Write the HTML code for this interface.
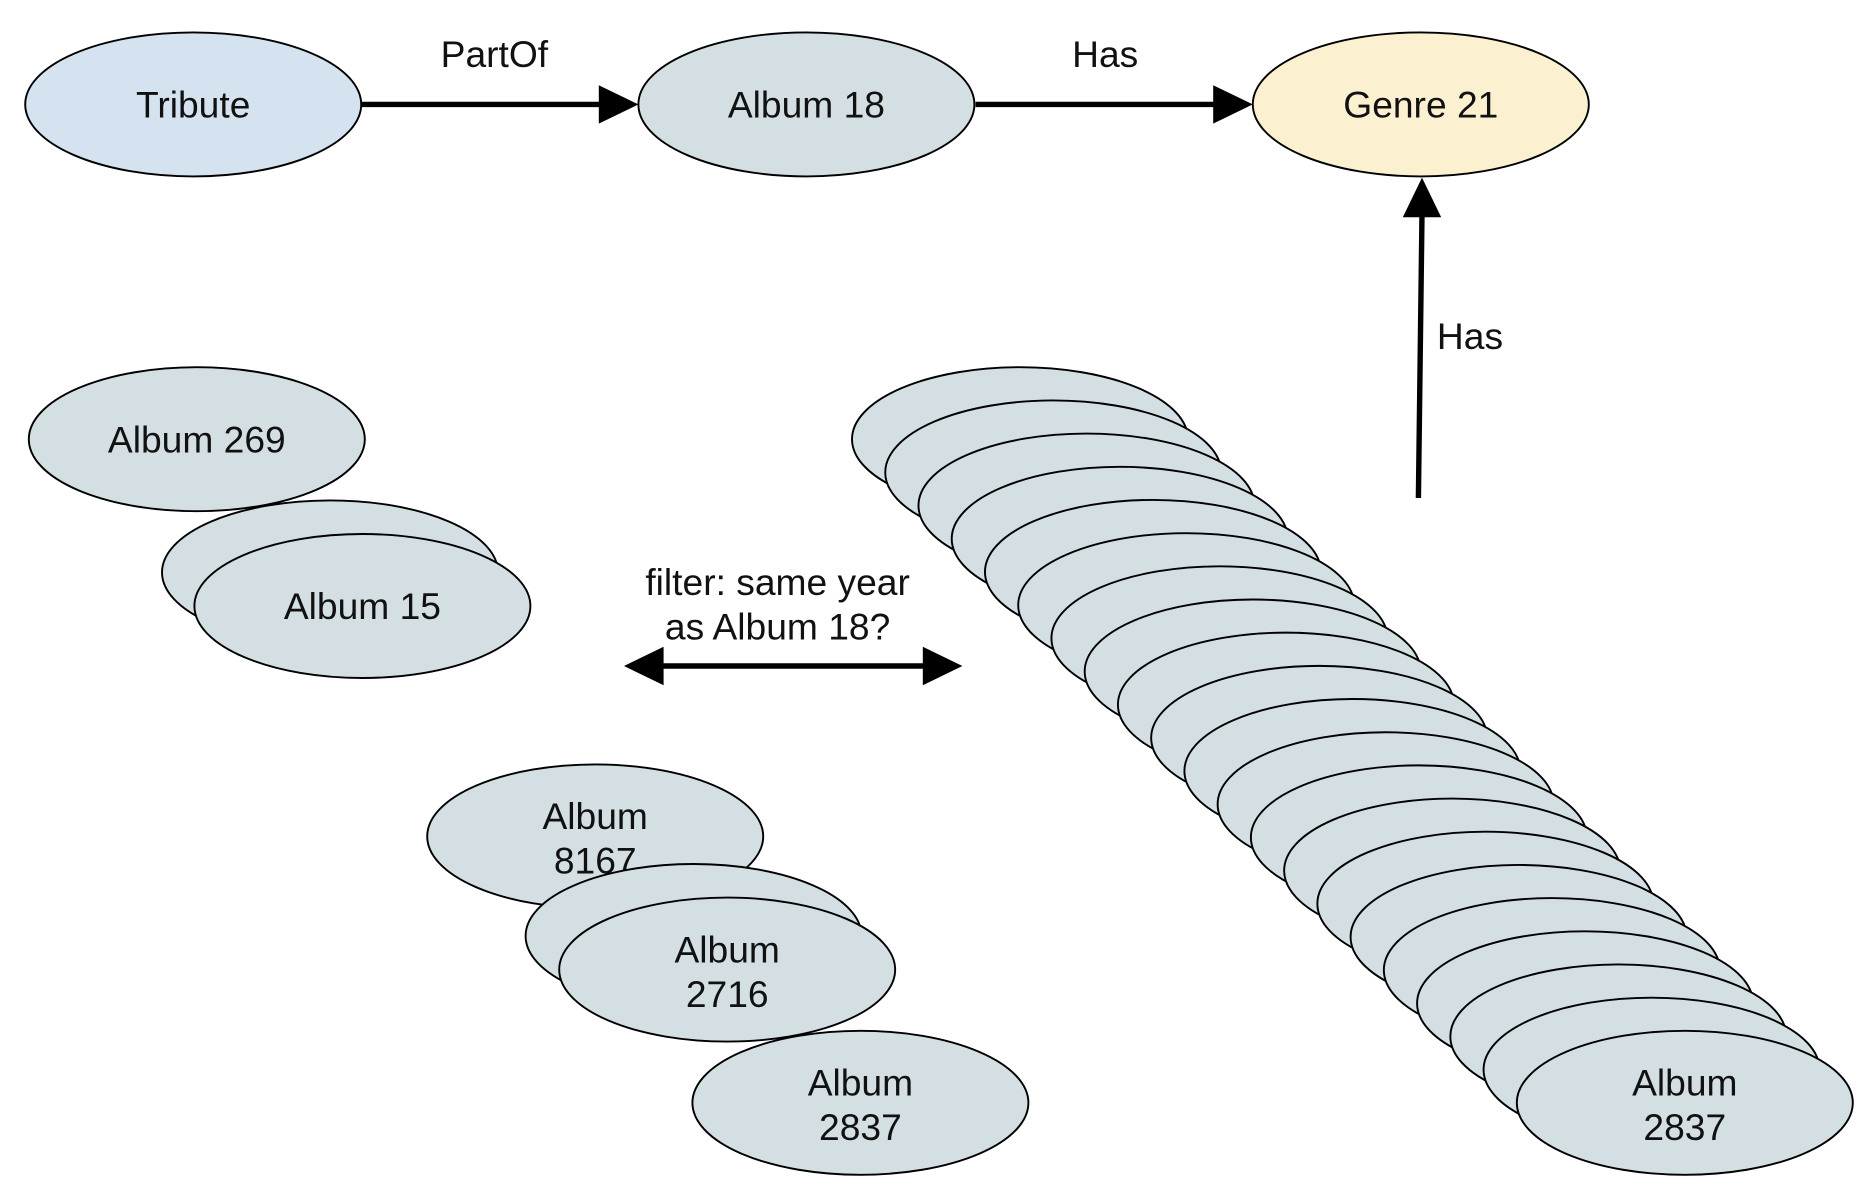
<!DOCTYPE html>
<html><head><meta charset="utf-8"><style>
html,body{margin:0;padding:0;background:#fff;}
svg{display:block;}
text{font-family:"Liberation Sans",Arial,sans-serif;font-size:31px;fill:#111;text-anchor:middle;}
.n{fill:#d3dfe3;stroke:#000;stroke-width:1.6;}
</style></head><body>
<svg width="1876" height="1200" viewBox="0 0 1563.33 1000" xmlns="http://www.w3.org/2000/svg">
<defs>
<marker id="ah" markerWidth="10" markerHeight="10" refX="0" refY="0" viewBox="-1 -5 8 10" orient="auto" markerUnits="userSpaceOnUse" style="overflow:visible"></marker>
</defs>
<!-- top row -->
<ellipse cx="161" cy="87" rx="140" ry="60" fill="#d5e3f0" stroke="#000" stroke-width="1.6"/>
<text x="161" y="98">Tribute</text>
<ellipse class="n" cx="672" cy="87" rx="140" ry="60"/>
<text x="672" y="98">Album 18</text>
<ellipse cx="1184" cy="87" rx="140" ry="60" fill="#fbf1d1" stroke="#000" stroke-width="1.6"/>
<text x="1184" y="98">Genre 21</text>

<line x1="301" y1="87" x2="502" y2="87" stroke="#000" stroke-width="4.5"/>
<polygon points="532,87 499,71 499,103" fill="#000"/>
<text x="412" y="56">PartOf</text>
<line x1="813" y1="87" x2="1014" y2="87" stroke="#000" stroke-width="4.5"/>
<polygon points="1044,87 1011,71 1011,103" fill="#000"/>
<text x="921" y="56">Has</text>

<line x1="1182" y1="415" x2="1185" y2="178" stroke="#000" stroke-width="4.5"/>
<polygon points="1185,148 1169,181 1201,181" fill="#000"/>
<text x="1225" y="291">Has</text>

<!-- left nodes -->
<ellipse class="n" cx="164" cy="366" rx="140" ry="60"/>
<text x="164" y="377">Album 269</text>
<ellipse class="n" cx="275" cy="477" rx="140" ry="60"/>
<ellipse class="n" cx="302" cy="505" rx="140" ry="60"/>
<text x="302" y="516">Album 15</text>

<text x="648" y="496">filter: same year</text>
<text x="648" y="533">as Album 18?</text>
<line x1="548" y1="555" x2="774" y2="555" stroke="#000" stroke-width="4.5"/>
<polygon points="520,555 553,539 553,571" fill="#000"/>
<polygon points="802,555 769,539 769,571" fill="#000"/>

<ellipse class="n" cx="496" cy="697" rx="140" ry="60"/>
<text x="496" y="691">Album</text>
<text x="496" y="728">8167</text>
<ellipse class="n" cx="578" cy="780" rx="140" ry="60"/>
<ellipse class="n" cx="606" cy="808" rx="140" ry="60"/>
<text x="606" y="802">Album</text>
<text x="606" y="839">2716</text>
<ellipse class="n" cx="717" cy="919" rx="140" ry="60"/>
<text x="717" y="913">Album</text>
<text x="717" y="950">2837</text>

<!-- stack -->
<ellipse class="n" cx="850" cy="366" rx="140" ry="60"/>
<ellipse class="n" cx="877.7" cy="393.7" rx="140" ry="60"/>
<ellipse class="n" cx="905.4" cy="421.3" rx="140" ry="60"/>
<ellipse class="n" cx="933.1" cy="449" rx="140" ry="60"/>
<ellipse class="n" cx="960.8" cy="476.6" rx="140" ry="60"/>
<ellipse class="n" cx="988.5" cy="504.3" rx="140" ry="60"/>
<ellipse class="n" cx="1016.2" cy="531.9" rx="140" ry="60"/>
<ellipse class="n" cx="1043.9" cy="559.6" rx="140" ry="60"/>
<ellipse class="n" cx="1071.6" cy="587.2" rx="140" ry="60"/>
<ellipse class="n" cx="1099.3" cy="614.9" rx="140" ry="60"/>
<ellipse class="n" cx="1127" cy="642.5" rx="140" ry="60"/>
<ellipse class="n" cx="1154.7" cy="670.2" rx="140" ry="60"/>
<ellipse class="n" cx="1182.4" cy="697.8" rx="140" ry="60"/>
<ellipse class="n" cx="1210.1" cy="725.5" rx="140" ry="60"/>
<ellipse class="n" cx="1237.8" cy="753.1" rx="140" ry="60"/>
<ellipse class="n" cx="1265.5" cy="780.8" rx="140" ry="60"/>
<ellipse class="n" cx="1293.2" cy="808.4" rx="140" ry="60"/>
<ellipse class="n" cx="1320.9" cy="836.1" rx="140" ry="60"/>
<ellipse class="n" cx="1348.6" cy="863.7" rx="140" ry="60"/>
<ellipse class="n" cx="1376.3" cy="891.4" rx="140" ry="60"/>
<ellipse class="n" cx="1404" cy="919" rx="140" ry="60"/>
<text x="1404" y="913">Album</text>
<text x="1404" y="950">2837</text>
</svg>
</body></html>
